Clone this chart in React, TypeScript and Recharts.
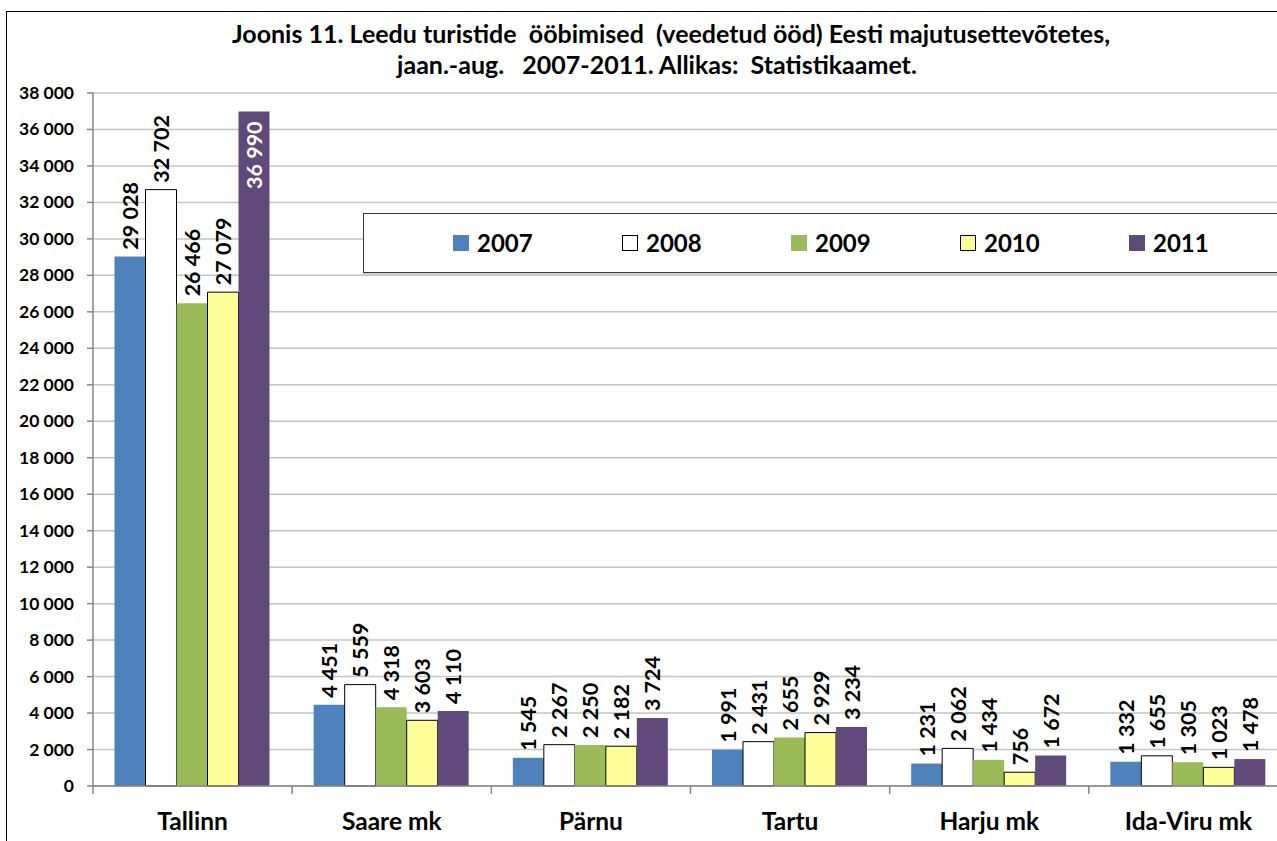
import React from 'react';
import { BarChart, Bar, XAxis, YAxis, CartesianGrid, LabelList, Legend } from 'recharts';

const categories = ['Tallinn', 'Saare mk', 'Pärnu', 'Tartu', 'Harju mk', 'Ida-Viru mk'];
const v2007 = [29028, 4451, 1545, 1991, 1231, 1332];
const v2008 = [32702, 5559, 2267, 2431, 2062, 1655];
const v2009 = [26466, 4318, 2250, 2655, 1434, 1305];
const v2010 = [27079, 3603, 2182, 2929, 756, 1023];
const v2011 = [36990, 4110, 3724, 3234, 1672, 1478];
const yTicks = [0, 2000, 4000, 6000, 8000, 10000, 12000, 14000, 16000, 18000, 20000, 22000, 24000, 26000, 28000, 30000, 32000, 34000, 36000, 38000];
const titleLines = [
  'Joonis 11. Leedu turistide  ööbimised  (veedetud ööd) Eesti majutusettevõtetes,',
  'jaan.-aug.   2007-2011. Allikas:  Statistikaamet.',
];

const SERIES = [
  { key: 'y2007', name: '2007', fill: '#4F81BD', stroke: 'none' },
  { key: 'y2008', name: '2008', fill: '#FFFFFF', stroke: '#000000' },
  { key: 'y2009', name: '2009', fill: '#9BBB59', stroke: 'none' },
  { key: 'y2010', name: '2010', fill: '#FFFF99', stroke: '#000000' },
  { key: 'y2011', name: '2011', fill: '#604A7B', stroke: 'none' },
];

const data = categories.map((c, i) => ({
  name: c,
  y2007: v2007[i],
  y2008: v2008[i],
  y2009: v2009[i],
  y2010: v2010[i],
  y2011: v2011[i],
}));

const FONT = 'Lato, "Open Sans", sans-serif';
const CHART_W = 1300;
const CHART_H = 841;
const MARGIN = { top: 93, right: 12, bottom: 0, left: 0 };
const YAXIS_W = 93;
const XAXIS_H = 55;
const BAND = (CHART_W - MARGIN.left - MARGIN.right - YAXIS_W) / categories.length;
const LABEL_FS = 21.5;

const fmt = (n: number) => String(n).replace(/\B(?=(\d{3})+(?!\d))/g, ' ');

const renderLabel = (props: any) => {
  const { x, y, width, value } = props;
  const cx = Number(x) + Number(width) / 2;
  const top = Number(y);
  const txt = fmt(Number(value));
  const est = txt.length * LABEL_FS * 0.52;
  const inside = top - 7 - est < MARGIN.top;
  const ty = inside ? top + 10 : top - 7;
  return (
    <text
      x={cx}
      y={ty}
      transform={`rotate(-90 ${cx} ${ty})`}
      textAnchor={inside ? 'end' : 'start'}
      dominantBaseline="central"
      fontFamily={FONT}
      fontWeight={700}
      fontSize={LABEL_FS}
      fill={inside ? '#FFFFFF' : '#000000'}
    >
      {txt}
    </text>
  );
};

const XTick = (props: any) => {
  const { x, y, payload, index } = props;
  const half = BAND / 2;
  return (
    <g>
      <line x1={x - half} x2={x - half} y1={y} y2={y + 8} stroke="#868686" strokeWidth={1.5} />
      {index === categories.length - 1 && (
        <line x1={x + half} x2={x + half} y1={y} y2={y + 8} stroke="#868686" strokeWidth={1.5} />
      )}
      <text x={x} y={y + 44} textAnchor="middle" fontFamily={FONT} fontWeight={700} fontSize={24.5} fill="#000">
        {payload.value}
      </text>
    </g>
  );
};

const YTick = (props: any) => {
  const { x, y, payload } = props;
  return (
    <text x={x} y={y} dy={6} textAnchor="end" fontFamily={FONT} fontWeight={700} fontSize={17.5} fill="#000">
      {fmt(payload.value)}
    </text>
  );
};

const LegendBox = () => (
  <div
    style={{
      width: '100%',
      height: '100%',
      boxSizing: 'border-box',
      border: '1.5px solid #3a3a3a',
      boxShadow: '0 2px 0 #d0d0d0',
      background: '#fff',
      display: 'flex',
      alignItems: 'center',
      paddingLeft: 89,
      fontFamily: FONT,
    }}
  >
    {SERIES.map((s) => (
      <div key={s.key} style={{ width: 169, display: 'flex', alignItems: 'center', flexShrink: 0 }}>
        <span
          style={{
            display: 'inline-block',
            width: 16,
            height: 16,
            boxSizing: 'border-box',
            background: s.fill,
            border: s.stroke === 'none' ? 'none' : `1px solid ${s.stroke}`,
            marginRight: 8,
          }}
        />
        <span style={{ fontWeight: 700, fontSize: 24, color: '#000', lineHeight: '24px' }}>{s.name}</span>
      </div>
    ))}
  </div>
);

export default function App() {
  return (
    <div style={{ position: 'absolute', left: 0, top: 0, width: 1277, height: 841, overflow: 'hidden', background: '#fff' }}>
      <div
        style={{
          position: 'absolute',
          left: 6,
          top: 11,
          width: 1400,
          height: 900,
          border: '1.5px solid #000',
          boxSizing: 'border-box',
        }}
      />
      <div style={{ position: 'absolute', left: 0, top: 0 }}>
        <BarChart
          width={CHART_W}
          height={CHART_H}
          data={data}
          margin={MARGIN}
          barCategoryGap="10.8%"
          barGap={0}
        >
          <CartesianGrid vertical={false} stroke="#c4c4c4" strokeWidth={1.5} />
          <XAxis
            dataKey="name"
            height={XAXIS_H}
            axisLine={{ stroke: '#868686', strokeWidth: 1.5 }}
            tickLine={false}
            tickSize={0}
            tickMargin={0}
            tick={<XTick />}
            interval={0}
          />
          <YAxis
            width={YAXIS_W}
            domain={[0, 38000]}
            ticks={yTicks}
            interval={0}
            axisLine={{ stroke: '#868686', strokeWidth: 1.5 }}
            tickLine={{ stroke: '#868686', strokeWidth: 1.5 }}
            tickSize={6}
            tickMargin={13}
            tick={<YTick />}
          />
          <Legend
            layout="horizontal"
            verticalAlign="middle"
            align="center"
            wrapperStyle={{ position: 'absolute', left: 363, top: 213, width: 1000, height: 60 }}
            content={() => <LegendBox />}
          />
          {SERIES.map((s) => (
            <Bar
              key={s.key}
              dataKey={s.key}
              name={s.name}
              fill={s.fill}
              stroke={s.stroke}
              strokeWidth={s.stroke === 'none' ? 0 : 1}
              isAnimationActive={false}
            >
              <LabelList dataKey={s.key} content={renderLabel} />
            </Bar>
          ))}
        </BarChart>
      </div>
      <svg style={{ position: 'absolute', left: 0, top: 0 }} width={1277} height={90}>
        <text x={671} y={43} textAnchor="middle" fontFamily={FONT} fontWeight={700} fontSize={25} fill="#000" style={{ whiteSpace: 'pre' }}>
          {titleLines[0]}
        </text>
        <text x={657} y={74} textAnchor="middle" fontFamily={FONT} fontWeight={700} fontSize={25} fill="#000" style={{ whiteSpace: 'pre' }}>
          {titleLines[1]}
        </text>
      </svg>
    </div>
  );
}
